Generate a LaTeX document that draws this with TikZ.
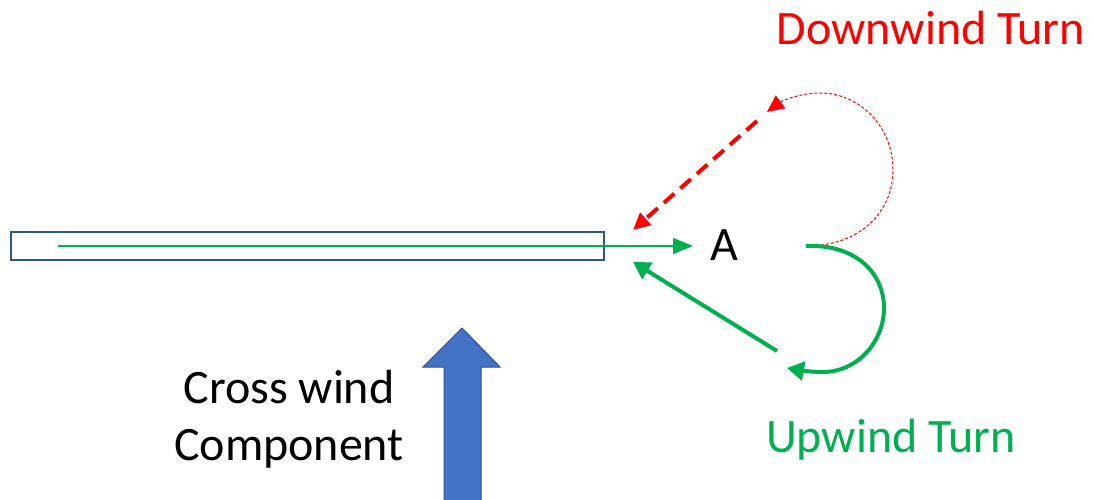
\documentclass[tikz,border=0pt]{standalone}
\usepackage{fontspec}
\setmainfont{Carlito}
\usetikzlibrary{arrows.meta}
\definecolor{rwyblue}{HTML}{2F5597}
\definecolor{arrowfill}{HTML}{4472C4}
\definecolor{arrowedge}{HTML}{2F528F}
\definecolor{turngreen}{HTML}{00B050}
\definecolor{turnred}{HTML}{FF0000}
\tikzset{
  lbl/.style={inner sep=0pt, font=\fontsize{48}{57}\selectfont},
  thinpath/.style={turngreen, line width=1.5pt, -{Triangle[length=20pt,width=16pt]}},
  greenturn/.style={turngreen, line width=4pt, -{Triangle[length=17pt,width=19pt]}},
  redleg/.style={turnred, line width=4pt, dash pattern=on 14pt off 8pt, -{Triangle[length=17pt,width=16pt]}},
  redarc/.style={turnred, line width=1pt, dash pattern=on 3pt off 2pt, -{Triangle[length=17pt,width=16pt]}},
}
\begin{document}
\begin{tikzpicture}[x=1pt, y=-1pt]
\useasboundingbox (0,0) rectangle (1093,500);

% runway
\draw[rwyblue, line width=2pt] (11,232) rectangle (604,260);

% reference points of the circuit
\coordinate (rwystart) at (58,246);
\coordinate (ptA) at (693,246);
\coordinate (turnin) at (806,246);
\coordinate (dwend) at (767,112);
\coordinate (dwleg) at (757,121);
\coordinate (rwyend1) at (633,230);
\coordinate (uwend) at (787,368);
\coordinate (uwleg) at (777,351);
\coordinate (rwyend2) at (633,262);

% take-off run to A
\draw[thinpath] (rwystart) -- (ptA);
\node[lbl, anchor=base] (labelA) at (724,260) {A};

% downwind turn (dotted loop) and return leg
\draw[redarc] (turnin) .. controls (860,246) and (893,212) .. (893,170)
  .. controls (893,127) and (860,93) .. (820,93)
  .. controls (802,93) and (783,100) .. (dwend);
\draw[redleg] (dwleg) -- (rwyend1);

% upwind turn and return leg
\draw[greenturn] (turnin) .. controls (858,244) and (884,275) .. (884,308)
  .. controls (884,342) and (857,372) .. (823,372)
  .. controls (810,372) and (798,370) .. (uwend);
\draw[greenturn] (uwleg) -- (rwyend2);

% cross wind block arrow
\draw[fill=arrowfill, draw=arrowedge, line width=1pt]
  (444,501) -- (444,367) -- (423,367) -- (462,328) -- (500,367) -- (481,367) -- (481,501);

% labels
\node[lbl, anchor=base, align=center] (cw) at (289,460) {Cross wind\\Component};
\node[lbl, anchor=base, text=turnred] (dwlabel) at (931,45) {Downwind Turn};
\node[lbl, anchor=base, text=turngreen] (uwlabel) at (891,452) {Upwind Turn};
\end{tikzpicture}
\end{document}
